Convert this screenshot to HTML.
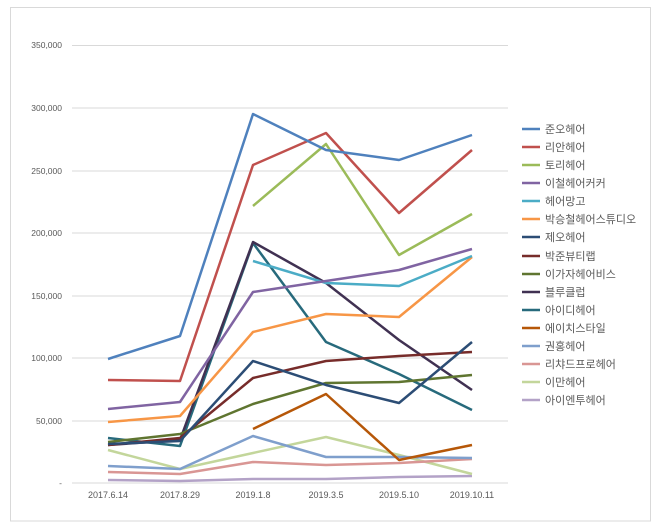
<!DOCTYPE html>
<html><head><meta charset="utf-8"><style>
html,body{margin:0;padding:0;background:#fff;}
svg{display:block;font-family:"Liberation Sans","Noto Sans CJK KR",sans-serif;}
</style></head><body>
<svg width="660" height="531" viewBox="0 0 660 531">
<rect x="0" y="0" width="660" height="531" fill="#fff"/>
<rect x="10.5" y="7.5" width="640" height="513.5" fill="none" stroke="#d9d9d9"/>
<g stroke="#d9d9d9" stroke-width="1">
<line x1="72" x2="508" y1="45.5" y2="45.5"/>
<line x1="72" x2="508" y1="108" y2="108"/>
<line x1="72" x2="508" y1="171" y2="171"/>
<line x1="72" x2="508" y1="233" y2="233"/>
<line x1="72" x2="508" y1="296" y2="296"/>
<line x1="72" x2="508" y1="358" y2="358"/>
<line x1="72" x2="508" y1="421" y2="421"/>
<line x1="72" x2="508" y1="483" y2="483"/>
</g>
<g font-size="8.5" fill="#595959" text-anchor="end">
<text x="62" y="48">350,000</text>
<text x="62" y="111">300,000</text>
<text x="62" y="174">250,000</text>
<text x="62" y="236">200,000</text>
<text x="62" y="299">150,000</text>
<text x="62" y="361">100,000</text>
<text x="62" y="424">50,000</text>
<text x="62" y="486">-</text>
</g>
<g font-size="9" fill="#595959" text-anchor="middle">
<text x="108" y="498">2017.6.14</text>
<text x="180" y="498">2017.8.29</text>
<text x="253" y="498">2019.1.8</text>
<text x="326" y="498">2019.3.5</text>
<text x="399" y="498">2019.5.10</text>
<text x="472" y="498">2019.10.11</text>
</g>
<g fill="none" stroke-width="2.5" stroke-linejoin="round">
<polyline stroke="#b3a2c7" points="108,480 180,481 253,479 326,479 399,477 472,476"/>
<polyline stroke="#c3d69b" points="108,450 180,469 253,453 326,437 399,455 472,474"/>
<polyline stroke="#d99694" points="108,472 180,474 253,462 326,465 399,463 472,459"/>
<polyline stroke="#7f9fcc" points="108,466 180,469 253,436 326,457 399,457 472,458"/>
<polyline stroke="#b65708" points="253,429 326,394 399,460 472,445"/>
<polyline stroke="#276a7c" points="108,438 180,446 253,243 326,342 399,374 472,410"/>
<polyline stroke="#403152" points="108,445 180,440 253,242 326,283 399,340 472,390"/>
<polyline stroke="#5f7530" points="108,442 180,434 253,404 326,383 399,382 472,375"/>
<polyline stroke="#772c2a" points="108,445 180,438 253,378 326,361 399,356 472,352"/>
<polyline stroke="#2c4d75" points="108,444 180,441 253,361 326,385 399,403 472,342"/>
<polyline stroke="#f79646" points="108,422 180,416 253,332 326,314 399,317 472,257"/>
<polyline stroke="#4bacc6" points="253,261 326,283 399,286 472,256"/>
<polyline stroke="#8064a2" points="108,409 180,402 253,292 326,281 399,270 472,249"/>
<polyline stroke="#9bbb59" points="253,206 326,144 399,255 472,214"/>
<polyline stroke="#c0504d" points="108,380 180,381 253,165 326,133 399,213 472,150"/>
<polyline stroke="#4f81bd" points="108,359 180,336 253,114 326,150 399,160 472,135"/>
</g>
<g font-size="11" fill="#595959">
<g stroke-width="2.5">
<line x1="522" x2="540" y1="129" y2="129" stroke="#4f81bd"/>
<line x1="522" x2="540" y1="147" y2="147" stroke="#c0504d"/>
<line x1="522" x2="540" y1="165" y2="165" stroke="#9bbb59"/>
<line x1="522" x2="540" y1="183" y2="183" stroke="#8064a2"/>
<line x1="522" x2="540" y1="201" y2="201" stroke="#4bacc6"/>
<line x1="522" x2="540" y1="219" y2="219" stroke="#f79646"/>
<line x1="522" x2="540" y1="237" y2="237" stroke="#2c4d75"/>
<line x1="522" x2="540" y1="256" y2="256" stroke="#772c2a"/>
<line x1="522" x2="540" y1="274" y2="274" stroke="#5f7530"/>
<line x1="522" x2="540" y1="292" y2="292" stroke="#403152"/>
<line x1="522" x2="540" y1="310" y2="310" stroke="#276a7c"/>
<line x1="522" x2="540" y1="328" y2="328" stroke="#b65708"/>
<line x1="522" x2="540" y1="346" y2="346" stroke="#7f9fcc"/>
<line x1="522" x2="540" y1="364" y2="364" stroke="#d99694"/>
<line x1="522" x2="540" y1="382" y2="382" stroke="#c3d69b"/>
<line x1="522" x2="540" y1="400" y2="400" stroke="#b3a2c7"/>
</g>
<text x="545" y="133">준오헤어</text>
<text x="545" y="151">리안헤어</text>
<text x="545" y="169">토리헤어</text>
<text x="545" y="187">이철헤어커커</text>
<text x="545" y="205">헤어망고</text>
<text x="545" y="223">박승철헤어스튜디오</text>
<text x="545" y="241">제오헤어</text>
<text x="545" y="260">박준뷰티랩</text>
<text x="545" y="278">이가자헤어비스</text>
<text x="545" y="296">블루클럽</text>
<text x="545" y="314">아이디헤어</text>
<text x="545" y="332">에이치스타일</text>
<text x="545" y="350">권홍헤어</text>
<text x="545" y="368">리챠드프로헤어</text>
<text x="545" y="386">이만헤어</text>
<text x="545" y="404">아이엔투헤어</text>
</g>
</svg>
</body></html>
